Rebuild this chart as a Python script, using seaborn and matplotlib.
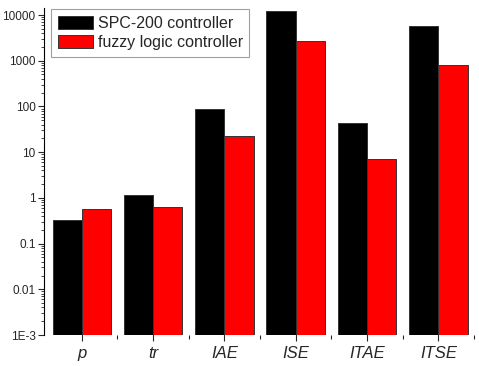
import pandas as pd
import matplotlib
matplotlib.use('Agg')
import matplotlib.pyplot as plt
from matplotlib.ticker import FixedLocator, LogLocator, NullFormatter
import seaborn as sns

# Values (log scale)
metrics = ['p', 'tr', 'IAE', 'ISE', 'ITAE', 'ITSE']
spc200 = [0.33, 1.18, 86, 12500, 44, 5740]
fuzzy = [0.575, 0.625, 23, 2730, 7.1, 790]
controllers = ['SPC-200 controller', 'fuzzy logic controller']
ytick_vals = [1e-3, 0.01, 0.1, 1, 10, 100, 1000, 10000]
ytick_labels = ['1E-3', '0.01', '0.1', '1', '10', '100', '1000', '10000']

df = pd.DataFrame({
    'metric': metrics * 2,
    'value': spc200 + fuzzy,
    'controller': [controllers[0]] * len(metrics) + [controllers[1]] * len(metrics),
})

sns.set_style('white')
plt.rcParams['font.family'] = ['Liberation Sans', 'DejaVu Sans']

fig = plt.figure(figsize=(4.79, 3.66), dpi=100)
ax = fig.add_axes([44 / 479, 1 - 335 / 366, (474 - 44) / 479, (335 - 8) / 366])

sns.barplot(data=df, x='metric', y='value', hue='controller',
            palette=['black', 'red'], saturation=1, edgecolor='#333333', linewidth=0.7,
            width=0.82, errorbar=None, ax=ax)

ax.set_yscale('log')
ax.set_ylim(1e-3, 10 ** (4 + 7 / 45.7))
ax.set_xlim(-0.53, 5.5)
ax.set_yticks(ytick_vals)
ax.set_yticklabels(ytick_labels, fontsize=8.5)
ax.yaxis.set_minor_locator(LogLocator(base=10, subs=range(2, 10), numticks=20))
ax.yaxis.set_minor_formatter(NullFormatter())
ax.xaxis.set_minor_locator(FixedLocator([0.5, 1.5, 2.5, 3.5, 4.5, 5.5]))
ax.set_xticks(range(len(metrics)))
ax.set_xticklabels(metrics, fontsize=12, style='italic')
ax.set_xlabel('')
ax.set_ylabel('')

for s in ['top', 'right', 'bottom']:
    ax.spines[s].set_visible(False)
ax.spines['left'].set_color('black')
ax.spines['left'].set_linewidth(0.8)
ax.tick_params(axis='y', which='major', direction='out', length=4, width=0.8, left=True, pad=2)
ax.tick_params(axis='y', which='minor', direction='out', length=2, width=0.6, left=True)
ax.tick_params(axis='x', which='major', direction='inout', length=8, width=0.8, bottom=True, pad=4)
ax.tick_params(axis='x', which='minor', direction='out', length=3, width=0.8, bottom=True)

leg = ax.legend(loc='upper left', bbox_to_anchor=(0.016, 0.997), fontsize=11.5,
                frameon=True, fancybox=False, handlelength=2.2, handleheight=0.85,
                borderpad=0.42, labelspacing=0.28, handletextpad=0.3, borderaxespad=0)
leg.get_frame().set_edgecolor('#888888')
leg.get_frame().set_linewidth(0.8)

plt.savefig('out.png', dpi=100)
